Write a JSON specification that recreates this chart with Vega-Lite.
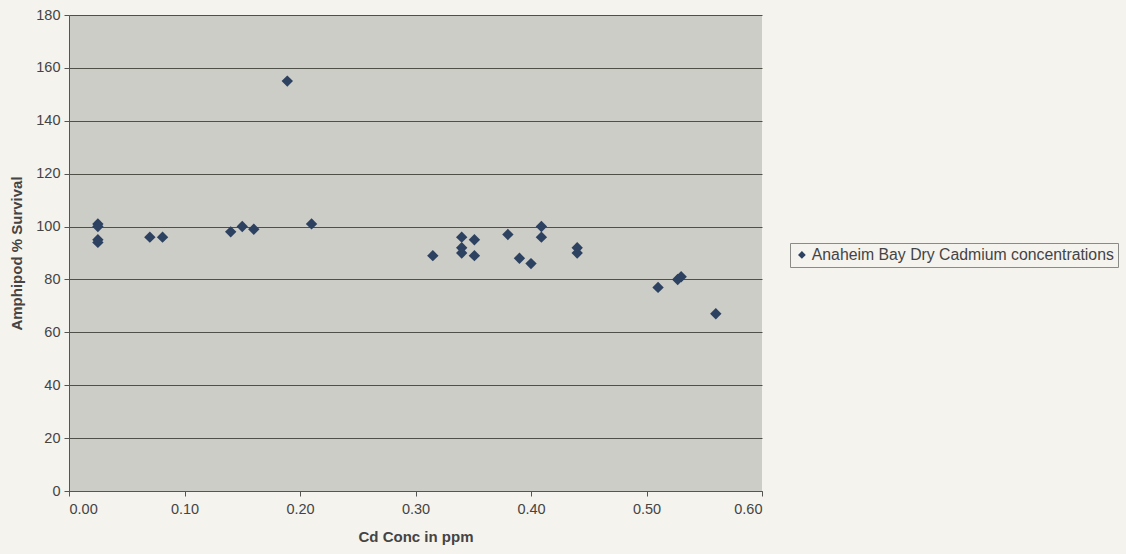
{
  "$schema": "https://vega.github.io/schema/vega-lite/v6.json",
  "width": 693,
  "height": 476,
  "autosize": {"type": "none"},
  "padding": {"left": 69, "top": 15, "right": 364, "bottom": 63},
  "background": "#f5f3ee",
  "config": {
    "view": {"fill": "#cdcdc8", "stroke": null},
    "font": "Liberation Sans"
  },
  "data": {
    "values": [
      {"cd": 0.025, "survival": 101, "series": "Anaheim Bay Dry Cadmium concentrations"},
      {"cd": 0.025, "survival": 100, "series": "Anaheim Bay Dry Cadmium concentrations"},
      {"cd": 0.025, "survival": 95, "series": "Anaheim Bay Dry Cadmium concentrations"},
      {"cd": 0.025, "survival": 94, "series": "Anaheim Bay Dry Cadmium concentrations"},
      {"cd": 0.07, "survival": 96, "series": "Anaheim Bay Dry Cadmium concentrations"},
      {"cd": 0.081, "survival": 96, "series": "Anaheim Bay Dry Cadmium concentrations"},
      {"cd": 0.14, "survival": 98, "series": "Anaheim Bay Dry Cadmium concentrations"},
      {"cd": 0.15, "survival": 100, "series": "Anaheim Bay Dry Cadmium concentrations"},
      {"cd": 0.16, "survival": 99, "series": "Anaheim Bay Dry Cadmium concentrations"},
      {"cd": 0.189, "survival": 155, "series": "Anaheim Bay Dry Cadmium concentrations"},
      {"cd": 0.21, "survival": 101, "series": "Anaheim Bay Dry Cadmium concentrations"},
      {"cd": 0.315, "survival": 89, "series": "Anaheim Bay Dry Cadmium concentrations"},
      {"cd": 0.34, "survival": 96, "series": "Anaheim Bay Dry Cadmium concentrations"},
      {"cd": 0.34, "survival": 92, "series": "Anaheim Bay Dry Cadmium concentrations"},
      {"cd": 0.34, "survival": 90, "series": "Anaheim Bay Dry Cadmium concentrations"},
      {"cd": 0.351, "survival": 95, "series": "Anaheim Bay Dry Cadmium concentrations"},
      {"cd": 0.351, "survival": 89, "series": "Anaheim Bay Dry Cadmium concentrations"},
      {"cd": 0.38, "survival": 97, "series": "Anaheim Bay Dry Cadmium concentrations"},
      {"cd": 0.39, "survival": 88, "series": "Anaheim Bay Dry Cadmium concentrations"},
      {"cd": 0.40, "survival": 86, "series": "Anaheim Bay Dry Cadmium concentrations"},
      {"cd": 0.409, "survival": 100, "series": "Anaheim Bay Dry Cadmium concentrations"},
      {"cd": 0.409, "survival": 96, "series": "Anaheim Bay Dry Cadmium concentrations"},
      {"cd": 0.44, "survival": 92, "series": "Anaheim Bay Dry Cadmium concentrations"},
      {"cd": 0.44, "survival": 90, "series": "Anaheim Bay Dry Cadmium concentrations"},
      {"cd": 0.51, "survival": 77, "series": "Anaheim Bay Dry Cadmium concentrations"},
      {"cd": 0.527, "survival": 80, "series": "Anaheim Bay Dry Cadmium concentrations"},
      {"cd": 0.53, "survival": 81, "series": "Anaheim Bay Dry Cadmium concentrations"},
      {"cd": 0.56, "survival": 67, "series": "Anaheim Bay Dry Cadmium concentrations"}
    ]
  },
  "mark": {"type": "point", "shape": "diamond", "filled": true, "size": 130, "opacity": 1},
  "encoding": {
    "x": {
      "field": "cd", "type": "quantitative",
      "scale": {"domain": [0, 0.6], "nice": false, "zero": true},
      "axis": {
        "title": "Cd Conc in ppm", "values": [0, 0.1, 0.2, 0.3, 0.4, 0.5, 0.6],
        "format": ".2f", "grid": false,
        "domainColor": "#555", "tickColor": "#555", "tickSize": 5,
        "labelFontSize": 14.5, "labelColor": "#444", "labelPadding": 6,
        "titleFontSize": 15, "titleColor": "#444", "titleFontWeight": "bold", "titlePadding": 14
      }
    },
    "y": {
      "field": "survival", "type": "quantitative",
      "scale": {"domain": [0, 180], "nice": false},
      "axis": {
        "title": "Amphipod % Survival", "values": [0, 20, 40, 60, 80, 100, 120, 140, 160, 180],
        "grid": true, "gridColor": "#4f5048", "gridWidth": 1, "gridOpacity": 1,
        "domainColor": "#555", "tickColor": "#555", "tickSize": 5,
        "labelFontSize": 14.5, "labelColor": "#444", "labelPadding": 4,
        "titleFontSize": 15, "titleColor": "#444", "titleFontWeight": "bold", "titlePadding": 11
      }
    },
    "color": {
      "field": "series", "type": "nominal",
      "scale": {"range": ["#2d4160"]},
      "legend": {
        "title": null, "orient": "none", "legendX": 721, "legendY": 228,
        "symbolType": "diamond", "symbolSize": 60, "labelFontSize": 15.8, "labelColor": "#444",
        "labelLimit": 500, "strokeColor": "#8a8a86", "padding": 4, "fillColor": "#f5f3ee", "labelOffset": 2
      }
    }
  }
}
